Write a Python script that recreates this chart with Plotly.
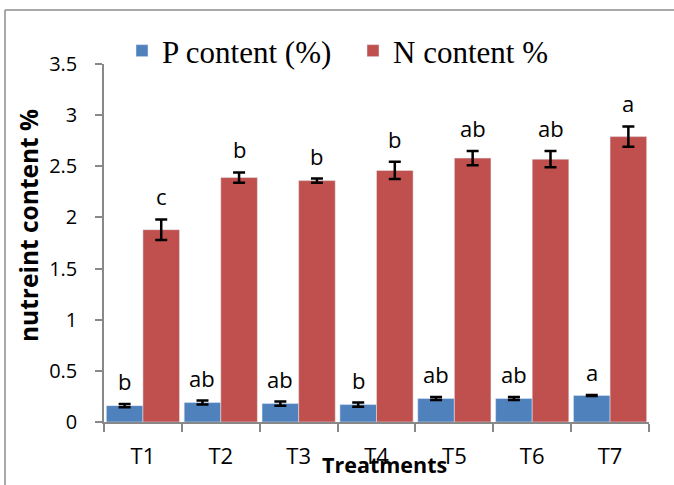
import plotly.graph_objects as go

# Treatments and measured nutrient contents
treatments = ["T1", "T2", "T3", "T4", "T5", "T6", "T7"]
p_content = [0.16, 0.19, 0.18, 0.17, 0.23, 0.23, 0.26]
p_err = [0.015, 0.02, 0.02, 0.02, 0.015, 0.015, 0.005]
p_letters = ["b", "ab", "ab", "b", "ab", "ab", "a"]
n_content = [1.88, 2.39, 2.36, 2.46, 2.58, 2.57, 2.79]
n_err = [0.10, 0.05, 0.02, 0.085, 0.07, 0.08, 0.10]
n_letters = ["c", "b", "b", "b", "ab", "ab", "a"]
y_ticks = [0, 0.5, 1, 1.5, 2, 2.5, 3, 3.5]
y_tick_text = ["0", "0.5", "1", "1.5", "2", "2.5", "3", "3.5"]

BLUE = "#4F81BD"
RED = "#C0504D"
AXIS = "#888888"
SANS = "Open Sans"

# plot area in pixels
W, H = 674, 485
L, R, T, B = 104, 25, 64, 63
PW, PH = W - L - R, H - T - B


def px_x(x):
    return (x - L) / PW


def px_y(y):
    return (H - B - y) / PH


err_style = dict(type="data", visible=True, color="black", thickness=2.5, width=6)

fig = go.Figure()
fig.add_trace(go.Bar(
    name="P content (%)", x=treatments, y=p_content, marker_color=BLUE,
    error_y=dict(array=p_err, **err_style),
))
fig.add_trace(go.Bar(
    name="N content %", x=treatments, y=n_content, marker_color=RED,
    error_y=dict(array=n_err, **err_style),
))

# significance letters above each error bar
group_half = PW / len(treatments) * (1 - 0.06) / 4
annotations = []
for vals, errs, letters, shift in [
    (p_content, p_err, p_letters, -group_half),
    (n_content, n_err, n_letters, group_half),
]:
    for t, v, e, lab in zip(treatments, vals, errs, letters):
        annotations.append(dict(
            x=t, y=v + e, xref="x", yref="y", text=lab, showarrow=False,
            xshift=shift, yshift=6, yanchor="bottom",
            font=dict(family=SANS, size=22, color="black"),
        ))

annotations.append(dict(
    x=px_x(384), y=px_y(464), xref="paper", yref="paper", text="<b>Treatments</b>",
    showarrow=False, xanchor="center", yanchor="middle",
    font=dict(family=SANS, size=21.5, color="black"),
))
annotations.append(dict(
    x=px_x(28), y=px_y(226), xref="paper", yref="paper", text="<b>nutreint content %</b>",
    showarrow=False, xanchor="center", yanchor="middle", textangle=-90,
    font=dict(family=SANS, size=24.5, color="black"),
))

# outer chart frame (top and left edges)
shapes = [
    dict(type="line", xref="paper", yref="paper", x0=px_x(5), x1=px_x(680),
         y0=px_y(10), y1=px_y(10), line=dict(color="#8c8c8c", width=1.5)),
    dict(type="line", xref="paper", yref="paper", x0=px_x(5), x1=px_x(5),
         y0=px_y(10), y1=px_y(490), line=dict(color="#8c8c8c", width=1.5)),
]

fig.update_layout(
    width=W, height=H,
    margin=dict(l=L, r=R, t=T, b=B),
    paper_bgcolor="white", plot_bgcolor="white",
    barmode="group", bargap=0.06, bargroupgap=0,
    showlegend=True,
    legend=dict(
        orientation="h", x=px_x(122), y=px_y(51), xanchor="left", yanchor="middle",
        font=dict(family="Liberation Serif", size=31, color="black"),
        bgcolor="rgba(0,0,0,0)", entrywidth=186, entrywidthmode="pixels",
    ),
    xaxis=dict(
        showline=True, linecolor=AXIS, linewidth=1.5, ticks="outside",
        tickson="boundaries", ticklen=8, tickcolor=AXIS, tickwidth=1.5,
        ticklabelstandoff=14,
        tickfont=dict(family=SANS, size=22, color="black"), showgrid=False,
    ),
    yaxis=dict(
        range=[0, 3.5], tickvals=y_ticks, ticktext=y_tick_text,
        showline=True, linecolor=AXIS, linewidth=1.5, ticks="outside",
        ticklen=7, tickcolor=AXIS, tickwidth=1.5, ticklabelstandoff=14,
        tickfont=dict(family=SANS, size=20, color="black"), showgrid=False,
        zeroline=False,
    ),
    annotations=annotations,
    shapes=shapes,
)

fig.write_html("out.html")
